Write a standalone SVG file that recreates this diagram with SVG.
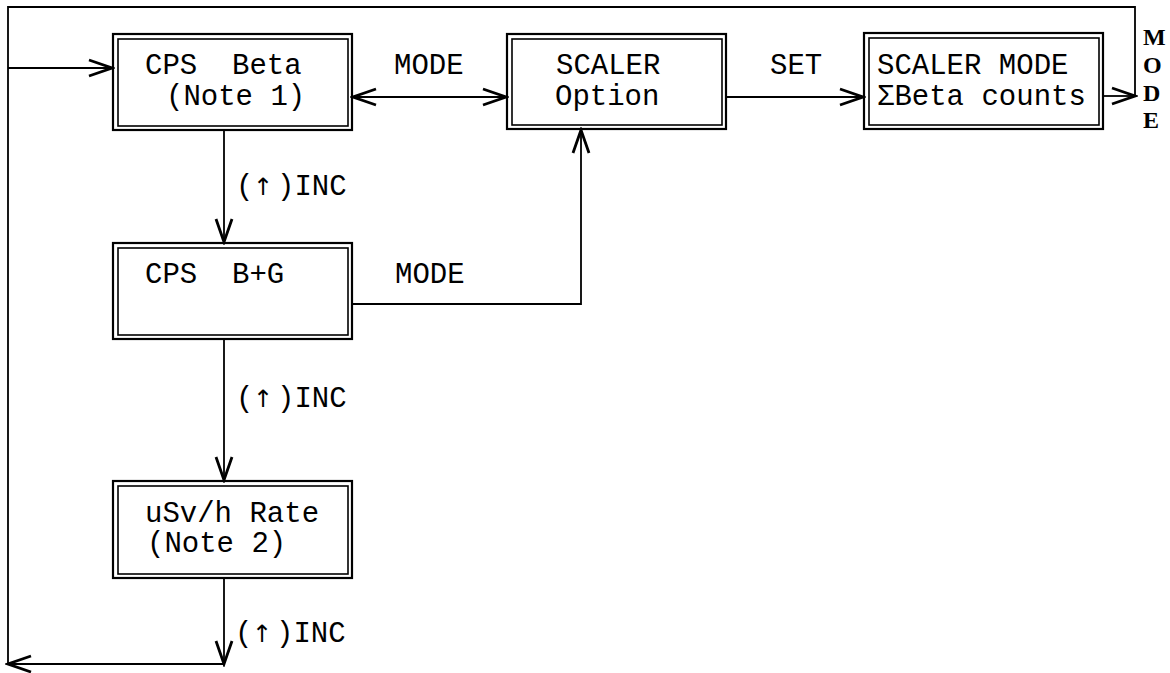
<svg xmlns="http://www.w3.org/2000/svg" width="1170" height="673" viewBox="0 0 1170 673">
<style>
.o{fill:none;stroke:#000;stroke-width:2.2}
.i{fill:none;stroke:#000;stroke-width:1.6}
.t{font-family:"Liberation Mono","Courier New",monospace;font-size:29px;fill:#000}
.a{font-family:"DejaVu Sans",sans-serif;font-size:24px}
.c{fill:none;stroke:#000;stroke-width:1.8}
.v{font-family:"Liberation Serif","Times New Roman",serif;font-size:24px;font-weight:bold;fill:#000}
</style>
<defs>
<marker id="ah" markerUnits="userSpaceOnUse" markerWidth="30" markerHeight="22" viewBox="-26 -11 28 22" refX="0" refY="0" orient="auto-start-reverse">
<path d="M-23,-8 L0,0 L-23,8" fill="none" stroke="#000" stroke-width="2.8"/>
</marker>
</defs>
<rect width="1170" height="673" fill="#fff"/>
<g id="connectors">
<path class="c" d="M1135,96 V7 H8 V664"/>
<path class="c" d="M8,68 H112" marker-end="url(#ah)"/>
<path class="c" d="M353,97 H506" marker-start="url(#ah)" marker-end="url(#ah)"/>
<path class="c" d="M727,97 H863" marker-end="url(#ah)"/>
<path class="c" d="M1104,96 H1135" marker-end="url(#ah)"/>
<path class="c" d="M224,131 V242" marker-end="url(#ah)"/>
<path class="c" d="M353,304 H581 V130" marker-end="url(#ah)"/>
<path class="c" d="M224,340 V480" marker-end="url(#ah)"/>
<path class="c" d="M224,579 V664" marker-end="url(#ah)"/>
<path class="c" d="M224,664 H8" marker-end="url(#ah)"/>
<text class="t" x="394" y="74">MODE</text>
<text class="t" x="770" y="74">SET</text>
<text class="t" x="395" y="283">MODE</text>
<text class="t" x="236" y="195">(<tspan class="a" x="253">↑</tspan><tspan x="277">)INC</tspan></text>
<text class="t" x="236" y="407">(<tspan class="a" x="253">↑</tspan><tspan x="277">)INC</tspan></text>
<text class="t" x="235" y="642">(<tspan class="a" x="252">↑</tspan><tspan x="276">)INC</tspan></text>
<text class="v" x="1143" y="45">M</text>
<text class="v" x="1143" y="73">O</text>
<text class="v" x="1143" y="101">D</text>
<text class="v" x="1143" y="128">E</text>
</g>
<g id="cps-beta">
<rect class="o" x="113" y="34" width="239" height="96"/>
<rect class="i" x="118" y="39" width="230" height="87"/>
<text class="t" x="145" y="74" xml:space="preserve">CPS  Beta</text>
<text class="t" x="166" y="105">(Note 1)</text>
</g>
<g id="scaler-option">
<rect class="o" x="507" y="34" width="219" height="95"/>
<rect class="i" x="512" y="39" width="210" height="86"/>
<text class="t" x="556" y="74">SCALER</text>
<text class="t" x="555" y="105">Option</text>
</g>
<g id="scaler-mode">
<rect class="o" x="864" y="33" width="239" height="96"/>
<rect class="i" x="869" y="38" width="230" height="87"/>
<text class="t" x="877" y="74">SCALER MODE</text>
<text class="t" x="877" y="105">ΣBeta counts</text>
</g>
<g id="cps-bg">
<rect class="o" x="113" y="243" width="239" height="96"/>
<rect class="i" x="118" y="248" width="230" height="87"/>
<text class="t" x="145" y="283" xml:space="preserve">CPS  B+G</text>
</g>
<g id="usv-rate">
<rect class="o" x="113" y="481" width="239" height="97"/>
<rect class="i" x="118" y="486" width="230" height="88"/>
<text class="t" x="145" y="522">uSv/h Rate</text>
<text class="t" x="147" y="552">(Note 2)</text>
</g>
</svg>
